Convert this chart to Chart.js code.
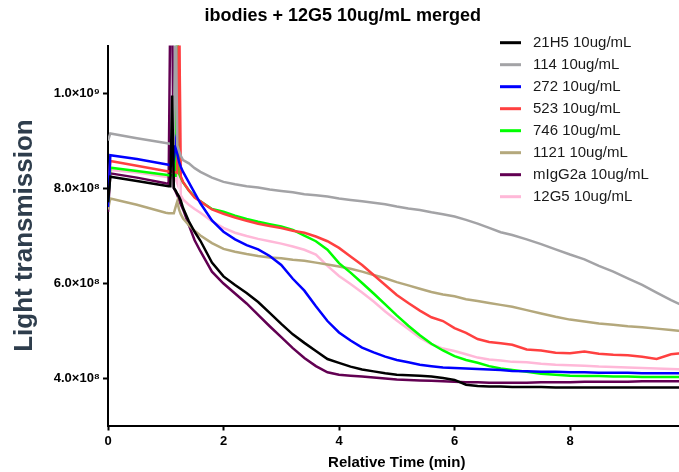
<!DOCTYPE html>
<html><head><meta charset="utf-8">
<script src="https://cdn.jsdelivr.net/npm/chart.js@4.4.1/dist/chart.umd.min.js"></script>
<style>
html,body{margin:0;padding:0;overflow:hidden;background:#fff;width:679px;height:472px}
#wrap{position:absolute;left:0;top:0;width:794px;height:472px}
</style></head><body>
<div id="wrap"><canvas id="c"></canvas></div>
<script>
// Relative time (min)
const times = [0, 0.04, 0.5, 1.0,
  1.05, 1.08, 1.11, 1.14, 1.17, 1.2, 1.23, 1.26,
  1.3, 1.4, 1.5, 1.6, 1.8,
  2.0, 2.2, 2.4, 2.6, 2.8, 3.0, 3.2, 3.4, 3.6, 3.8, 4.0, 4.2, 4.4, 4.6, 4.8, 5.0, 5.2, 5.4, 5.6, 5.8, 6.0, 6.2, 6.4, 6.6, 6.8,
  7.0, 7.25, 7.5, 7.75, 8.0, 8.25, 8.5, 8.75, 9.0, 9.25, 9.5, 9.75, 10.0];

// Light transmission, in units of 1e8
const v21H5 = [7.7, 8.24, 8.15, 8.05,
  8.04, 8.04, 9.95, 8.0, 7.95, 7.88, 7.82, 7.74,
  7.58, 7.30, 7.08, 6.89, 6.43,
  6.14, 5.96, 5.79, 5.60, 5.37, 5.14, 4.92, 4.74, 4.57, 4.40, 4.32, 4.24, 4.18, 4.14, 4.10, 4.07, 4.06, 4.05, 4.03, 4.00, 3.96, 3.86, 3.83, 3.82, 3.82,
  3.81, 3.81, 3.81, 3.80, 3.80, 3.80, 3.80, 3.80, 3.80, 3.80, 3.80, 3.80, 3.80];
const v114 = [9.0, 9.15, 9.05, 8.95,
  8.94, 8.93, 8.93, 8.93, 12, 8.9, 8.78, 8.68,
  8.59, 8.52, 8.42, 8.34, 8.22,
  8.13, 8.08, 8.04, 8.01, 7.97, 7.94, 7.91, 7.87, 7.85, 7.82, 7.78, 7.75, 7.72, 7.69, 7.66, 7.61, 7.57, 7.54, 7.49, 7.45, 7.40, 7.33, 7.25, 7.16, 7.07,
  7.01, 6.92, 6.82, 6.71, 6.60, 6.50, 6.36, 6.24, 6.10, 5.96, 5.80, 5.64, 5.50];
const v272 = [7.6, 8.69, 8.61, 8.50,
  8.49, 8.48, 8.48, 8.60, 8.95, 8.72, 8.55, 8.45,
  8.34, 8.12, 7.90, 7.68, 7.32,
  7.08, 6.92, 6.80, 6.71, 6.57, 6.38, 6.09, 5.84, 5.51, 5.20, 4.96, 4.79, 4.64, 4.54, 4.45, 4.38, 4.33, 4.28, 4.25, 4.22, 4.21, 4.20, 4.19, 4.18, 4.17,
  4.15, 4.14, 4.13, 4.13, 4.12, 4.12, 4.11, 4.11, 4.11, 4.10, 4.10, 4.10, 4.10];
const v523 = [7.9, 8.57, 8.47, 8.36,
  8.35, 8.35, 8.35, 8.34, 8.33, 8.32, 12, 8.25,
  8.13, 7.95, 7.80, 7.72, 7.55,
  7.46, 7.38, 7.31, 7.25, 7.20, 7.16, 7.10, 7.06, 6.98, 6.88, 6.74, 6.56, 6.38, 6.17, 5.96, 5.75, 5.58, 5.42, 5.28, 5.20, 5.05, 4.95, 4.82, 4.76, 4.73,
  4.70, 4.60, 4.58, 4.53, 4.52, 4.56, 4.51, 4.49, 4.48, 4.45, 4.40, 4.50, 4.53];
const v746 = [7.7, 8.43, 8.36, 8.28,
  8.27, 8.27, 8.27, 8.26, 8.26, 12, 8.3, 8.22,
  8.12, 7.95, 7.82, 7.72, 7.56,
  7.50, 7.42, 7.35, 7.29, 7.24, 7.19, 7.12, 7.00, 6.88, 6.70, 6.42, 6.22, 6.00, 5.78, 5.55, 5.32, 5.10, 4.90, 4.72, 4.58, 4.46, 4.38, 4.32, 4.25, 4.20,
  4.17, 4.13, 4.09, 4.07, 4.05, 4.04, 4.04, 4.03, 4.03, 4.02, 4.02, 4.02, 4.02];
const v1121 = [7.55, 7.78, 7.65, 7.48,
  7.47, 7.47, 7.47, 7.47, 7.6, 7.72, 7.55, 7.45,
  7.36, 7.22, 7.10, 7.00, 6.84,
  6.72, 6.66, 6.61, 6.57, 6.54, 6.52, 6.49, 6.47, 6.43, 6.39, 6.35, 6.30, 6.24, 6.17, 6.10, 6.02, 5.95, 5.88, 5.81, 5.76, 5.72, 5.66, 5.62, 5.58, 5.54,
  5.50, 5.43, 5.36, 5.29, 5.23, 5.19, 5.15, 5.12, 5.09, 5.07, 5.04, 5.01, 4.98];
const vIgG2a = [7.5, 8.31, 8.22, 8.10,
  8.09, 12, 12, 8.0, 7.93, 7.85, 7.76, 7.66,
  7.55, 7.22, 6.90, 6.67, 6.24,
  5.99, 5.78, 5.57, 5.33, 5.09, 4.86, 4.63, 4.42, 4.25, 4.12, 4.07, 4.05, 4.03, 4.01, 3.99, 3.97, 3.96, 3.95, 3.94, 3.93, 3.92, 3.91, 3.91, 3.90, 3.90,
  3.90, 3.90, 3.91, 3.91, 3.91, 3.92, 3.92, 3.92, 3.92, 3.93, 3.93, 3.93, 3.93];
const v12G5 = [7.8, 8.38, 8.33, 8.24,
  8.23, 8.23, 8.23, 8.22, 8.2, 8.1, 12, 7.85,
  7.76, 7.65, 7.56, 7.48, 7.30,
  7.16, 7.06, 6.99, 6.93, 6.88, 6.83, 6.77, 6.70, 6.60, 6.36, 6.15, 5.98, 5.80, 5.61, 5.40, 5.21, 5.03, 4.85, 4.71, 4.62, 4.57, 4.50, 4.43, 4.39, 4.37,
  4.34, 4.33, 4.30, 4.28, 4.27, 4.26, 4.24, 4.23, 4.22, 4.21, 4.20, 4.19, 4.18];

const seriesLabels = ['21H5 10ug/mL', '114 10ug/mL', '272 10ug/mL', '523 10ug/mL', '746 10ug/mL', '1121 10ug/mL', 'mIgG2a 10ug/mL', '12G5 10ug/mL'];
const seriesValues = [v21H5, v114, v272, v523, v746, v1121, vIgG2a, v12G5];
const seriesColors = ['#000000', '#a3a3a6', '#0000ff', '#ff4040', '#00ff00', '#b4a87c', '#620052', '#ffb8d8'];

const xTickValues = [0, 2, 4, 6, 8, 10];
const yTickValues = [4, 6, 8, 10];            // x 1e8
const yTickLabels = ['4.0×10⁸', '6.0×10⁸', '8.0×10⁸', '1.0×10⁹'];
const UNIT = 1e8;

const FONT = "'Liberation Sans', Arial, sans-serif";

const datasets = seriesValues.map((vals, i) => ({
  label: seriesLabels[i],
  data: times.map((t, k) => ({x: t, y: vals[k] * UNIT})),
  borderColor: seriesColors[i],
  backgroundColor: seriesColors[i],
  borderWidth: 2.5,
  pointRadius: 0,
  tension: 0,
  fill: false
}));

const insideLegend = {
  id: 'insideLegend',
  afterDraw(chart, args, o) {
    const ctx = chart.ctx;
    ctx.save();
    ctx.font = o.font;
    ctx.textBaseline = 'middle';
    ctx.textAlign = 'left';
    chart.data.datasets.forEach((ds, i) => {
      const y = o.top + i * o.rowHeight;
      ctx.strokeStyle = ds.borderColor;
      ctx.lineWidth = 3;
      ctx.beginPath();
      ctx.moveTo(o.x, y);
      ctx.lineTo(o.x + o.lineLen, y);
      ctx.stroke();
      ctx.fillStyle = o.color;
      ctx.fillText(ds.label, o.x + o.lineLen + o.gap, y);
    });
    ctx.restore();
  }
};

new Chart(document.getElementById('c'), {
  type: 'line',
  data: {datasets},
  plugins: [insideLegend],
  options: {
    responsive: true,
    maintainAspectRatio: false,
    animation: false,
    devicePixelRatio: 1,
    layout: {padding: {left: 0, right: 108.5, top: 0, bottom: 0}},
    plugins: {
      legend: {display: false},
      tooltip: {enabled: false},
      title: {
        display: true,
        text: 'ibodies + 12G5 10ug/mL merged',
        color: '#000',
        font: {family: FONT, size: 18, weight: 'bold'},
        padding: {top: 5, bottom: 19}
      },
      insideLegend: {x: 500, top: 42.7, rowHeight: 22, lineLen: 21, gap: 12,
        font: "15px 'Liberation Sans', Arial, sans-serif", color: '#1a1a1a'}
    },
    scales: {
      x: {
        type: 'linear',
        min: 0, max: 10,
        afterBuildTicks: s => { s.ticks = xTickValues.map(v => ({value: v})); },
        afterFit: s => { s.height = 46.5; },
        ticks: {color: '#000', font: {family: FONT, size: 13, weight: 'bold'}, padding: 3, maxRotation: 0, autoSkip: false},
        grid: {display: true, drawOnChartArea: false, drawTicks: true, tickLength: 5, tickColor: '#000', tickWidth: 2},
        border: {display: true, color: '#000', width: 2},
        title: {display: true, text: 'Relative Time (min)', color: '#000',
          font: {family: FONT, size: 15, weight: 'bold'}, padding: {top: 0, bottom: 0}}
      },
      y: {
        type: 'linear',
        min: 3 * UNIT, max: 11 * UNIT,
        afterBuildTicks: s => { s.ticks = yTickValues.map(v => ({value: v * UNIT})); },
        afterFit: s => { s.width = 108; },
        ticks: {
          color: '#000', font: {family: FONT, size: 13, weight: 'bold'}, padding: 3,
          callback: (value) => {
            const idx = yTickValues.findIndex(v => Math.abs(v * UNIT - value) < 1);
            return idx >= 0 ? yTickLabels[idx] : '';
          }
        },
        grid: {display: true, drawOnChartArea: false, drawTicks: true, tickLength: 5, tickColor: '#000', tickWidth: 2},
        border: {display: true, color: '#000', width: 2},
        title: {display: true, text: 'Light transmission', color: '#2e3d4c',
          font: {family: FONT, size: 26, weight: 'bold'}, padding: {top: 9, bottom: 0}}
      }
    }
  }
});
</script>
</body></html>
